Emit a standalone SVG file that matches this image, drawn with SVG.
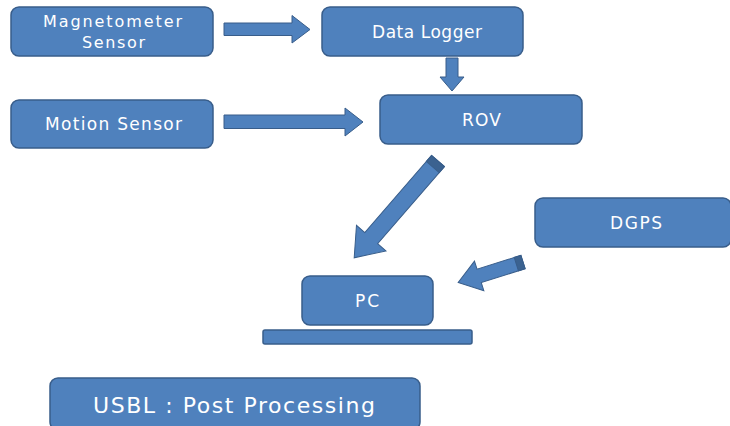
<svg xmlns="http://www.w3.org/2000/svg" width="730" height="426" viewBox="0 0 730 426">
<style>
.box{fill:#4F81BD;stroke:#385D8A;stroke-width:1.5}
.arr{fill:#4F81BD;stroke:#385D8A;stroke-width:1}
.cap{fill:#3B6290;stroke:#385D8A;stroke-width:1}
.t{fill:#FFFFFF;font-family:"DejaVu Sans","Open Sans",sans-serif;font-size:17px;text-anchor:middle}
.sm{font-size:16px}
.big{font-size:22px}
</style>
<rect width="730" height="426" fill="#FFFFFF"/>
<g id="magnetometer">
<rect class="box" x="11" y="7" width="202" height="49" rx="8"/>
<text class="t sm" x="112.5" y="27" textLength="139" lengthAdjust="spacing">Magnetometer</text>
<text class="t sm" x="113.5" y="47.5" textLength="63" lengthAdjust="spacing">Sensor</text>
</g>
<g id="motion">
<rect class="box" x="11" y="100" width="202" height="48" rx="8"/>
<text class="t" x="113.5" y="130" textLength="137" lengthAdjust="spacing">Motion Sensor</text>
</g>
<g id="datalogger">
<rect class="box" x="322" y="7" width="201" height="49" rx="8"/>
<text class="t" x="427" y="38" textLength="110" lengthAdjust="spacing">Data Logger</text>
</g>
<g id="rov">
<rect class="box" x="380" y="95" width="202" height="49" rx="8"/>
<text class="t" x="481.5" y="126" textLength="39" lengthAdjust="spacing">ROV</text>
</g>
<g id="dgps">
<rect class="box" x="535" y="198" width="196" height="49" rx="8"/>
<text class="t" x="636" y="229" textLength="52" lengthAdjust="spacing">DGPS</text>
</g>
<g id="pc">
<rect class="box" x="302" y="276" width="131" height="49" rx="8"/>
<rect class="box" x="263" y="330" width="209" height="14" rx="2"/>
<text class="t" x="367" y="307" textLength="24" lengthAdjust="spacing">PC</text>
</g>
<g id="usbl">
<rect class="box" x="50" y="378" width="370" height="52" rx="8"/>
<text class="t big" x="234" y="413" textLength="282" lengthAdjust="spacing">USBL : Post Processing</text>
</g>
<g id="connectors">
<polygon class="arr" points="224,23 292,23 292,15.5 310,29.5 292,43 292,35.5 224,35.5"/>
<polygon class="arr" points="224,115 345,115 345,108 363,122 345,136 345,128.5 224,128.5"/>
<polygon class="arr" points="446,58 458,58 458,77 464,77 452,91 440,77 446,77"/>
<g transform="translate(438,161) rotate(130.9)">
<polygon class="arr" points="0,-8.5 102,-8.5 102,-19.5 128,0 102,19.5 102,8.5 0,8.5"/>
<polygon class="cap" points="0,-8.5 8,-8.5 8,8.5 0,8.5"/>
</g>
<g transform="translate(523,262) rotate(162.4)">
<polygon class="arr" points="0,-7 46,-7 46,-15.5 68,0 46,15.5 46,7 0,7"/>
<polygon class="cap" points="0,-7 7,-7 7,7 0,7"/>
</g>
</g>
</svg>
